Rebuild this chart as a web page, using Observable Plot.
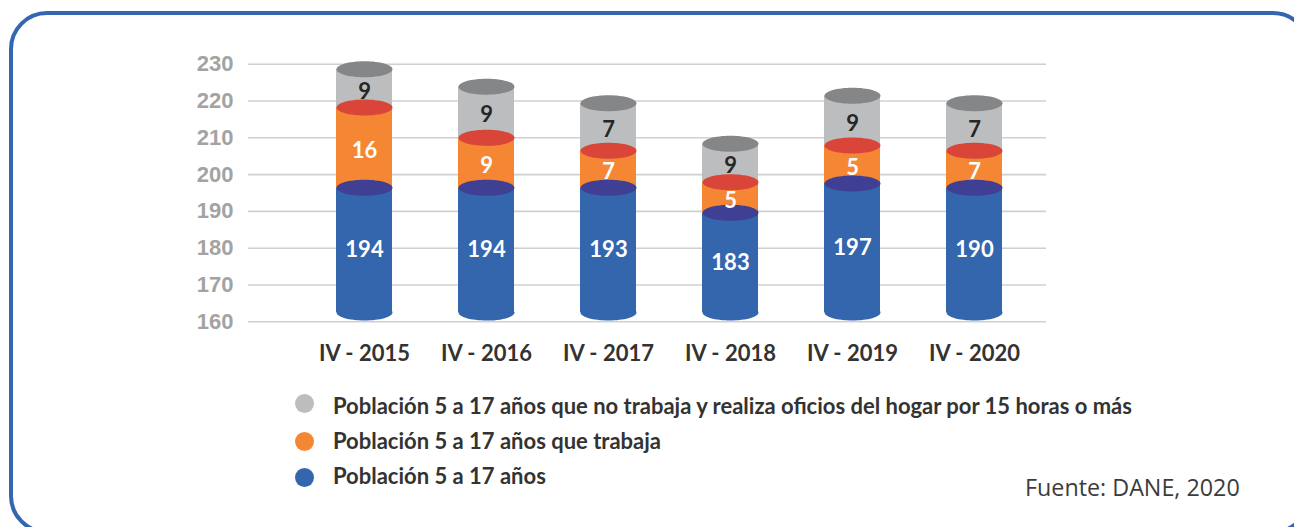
<!DOCTYPE html>
<html><head><meta charset="utf-8">
<script src="https://cdn.jsdelivr.net/npm/d3@7"></script>
<script src="https://cdn.jsdelivr.net/npm/@observablehq/plot@0.6"></script>
<style>
html,body{margin:0;padding:0;background:#fff;}
body{width:1294px;height:527px;overflow:hidden;position:relative;font-family:Lato,sans-serif;}
#frame{position:absolute;left:9px;top:11px;width:1302px;height:523px;box-sizing:border-box;border:4px solid #3467b0;border-radius:38px;}
#chart{position:absolute;left:0;top:0;}
.lg-dot{position:absolute;width:19px;height:19px;border-radius:50%;}
.lg-txt{position:absolute;left:333px;font-family:Lato,sans-serif;font-weight:700;font-size:22px;line-height:1;color:#333;white-space:nowrap;}
#source{position:absolute;left:1025px;top:476px;font-family:"Open Sans",sans-serif;font-weight:400;font-size:23.3px;line-height:1;color:#3c3c3c;white-space:nowrap;}
</style></head><body>
<div id="frame"></div>
<div id="chart"></div>
<div id="legend"></div>
<div id="source">Fuente: DANE, 2020</div>
<script>
// Categories
const periods = ["IV - 2015", "IV - 2016", "IV - 2017", "IV - 2018", "IV - 2019", "IV - 2020"];
// Printed values (labels)
const poblacion = [194, 194, 193, 183, 197, 190];
const trabaja = [16, 9, 7, 5, 5, 7];
const oficios = [9, 9, 7, 9, 9, 7];
// Segment boundaries as drawn
const cylinderBase = [162.5, 162.5, 162.5, 162.5, 162.5, 162.5];
const blueTop = [196.4, 196.4, 196.4, 189.6, 197.6, 196.4];
const orangeTop = [218.2, 210.0, 206.5, 197.9, 207.9, 206.5];
const grayTop = [228.6, 223.9, 219.4, 208.4, 221.4, 219.4];
// Axis ticks
const yTicks = [160, 170, 180, 190, 200, 210, 220, 230];
// Legend
const legendLabels = [
  "Población 5 a 17 años que no trabaja y realiza oficios del hogar por 15 horas o más",
  "Población 5 a 17 años que trabaja",
  "Población 5 a 17 años"
];

const C = {
  blue: "#3466ae", blueTop: "#3f3f93",
  orange: "#f58634", red: "#da4539",
  gray: "#bcbdbf", grayTop: "#858688"
};
const legendColors = [C.gray, C.orange, C.blue];

const rows = periods.map((p, i) => ({
  period: p, base: cylinderBase[i], blueTop: blueTop[i], orangeTop: orangeTop[i], grayTop: grayTop[i],
  poblacion: poblacion[i], trabaja: trabaja[i], oficios: oficios[i]
}));

// Ellipse symbol for cylinder caps
const RX = 28, RY = 8, K = 0.5523;
const ellipse = {
  draw(ctx) {
    ctx.moveTo(-RX, 0);
    ctx.bezierCurveTo(-RX, -K * RY, -K * RX, -RY, 0, -RY);
    ctx.bezierCurveTo(K * RX, -RY, RX, -K * RY, RX, 0);
    ctx.bezierCurveTo(RX, K * RY, K * RX, RY, 0, RY);
    ctx.bezierCurveTo(-K * RX, RY, -RX, K * RY, -RX, 0);
    ctx.closePath();
  }
};

const inset = 33;
const lbl = {fontFamily: "Lato", fontWeight: 700, fontSize: 22};

const chart = Plot.plot({
  width: 1294,
  height: 380,
  marginTop: 63.7,
  marginBottom: 58.7,
  marginLeft: 248,
  marginRight: 248,
  x: {domain: periods, range: [302.9, 1036.1], padding: 0},
  y: {domain: [160, 230]},
  marks: [
    Plot.ruleY(yTicks, {stroke: "#d0d0d0", strokeWidth: 1.6}),
    Plot.dot(rows, {x: "period", y: "base", symbol: ellipse, fill: C.blue}),
    Plot.barY(rows, {x: "period", y1: "base", y2: "blueTop", fill: C.blue, insetLeft: inset, insetRight: inset}),
    Plot.barY(rows, {x: "period", y1: "blueTop", y2: "orangeTop", fill: C.orange, insetLeft: inset, insetRight: inset}),
    Plot.barY(rows, {x: "period", y1: "orangeTop", y2: "grayTop", fill: C.gray, insetLeft: inset, insetRight: inset}),
    Plot.dot(rows, {x: "period", y: "blueTop", symbol: ellipse, fill: C.blueTop}),
    Plot.dot(rows, {x: "period", y: "orangeTop", symbol: ellipse, fill: C.red}),
    Plot.dot(rows, {x: "period", y: "grayTop", symbol: ellipse, fill: C.grayTop}),
    Plot.text(rows, {x: "period", y: d => (d.base + d.blueTop) / 2, text: "poblacion", fill: "white", ...lbl}),
    Plot.text(rows, {x: "period", y: d => (d.blueTop + d.orangeTop) / 2, dy: 3, text: "trabaja", fill: "white", ...lbl}),
    Plot.text(rows, {x: "period", y: d => (d.orangeTop + d.grayTop) / 2, dy: 3, text: "oficios", fill: "#262626", ...lbl}),
    Plot.axisY({ticks: yTicks, tickSize: 0, tickPadding: 15, label: null, fontFamily: "Liberation Sans", fontWeight: 700, fontSize: 22, fill: "#a3a3a3"}),
    Plot.axisX({tickSize: 0, tickPadding: 24, label: null, fontFamily: "Lato", fontWeight: 700, fontSize: 22, fill: "#333"})
  ]
});
document.getElementById("chart").appendChild(chart);

// Legend
const legend = document.getElementById("legend");
const rowTops = [394.8, 429.8, 464.8];
const dotCenters = [403.5, 441, 477.5];
legendLabels.forEach((t, i) => {
  const d = document.createElement("div");
  d.className = "lg-dot";
  d.style.left = (304 - 9.5) + "px";
  d.style.top = (dotCenters[i] - 9.5) + "px";
  d.style.background = legendColors[i];
  legend.appendChild(d);
  const s = document.createElement("div");
  s.className = "lg-txt";
  s.style.top = rowTops[i] + "px";
  s.textContent = t;
  legend.appendChild(s);
});
</script>
</body></html>
